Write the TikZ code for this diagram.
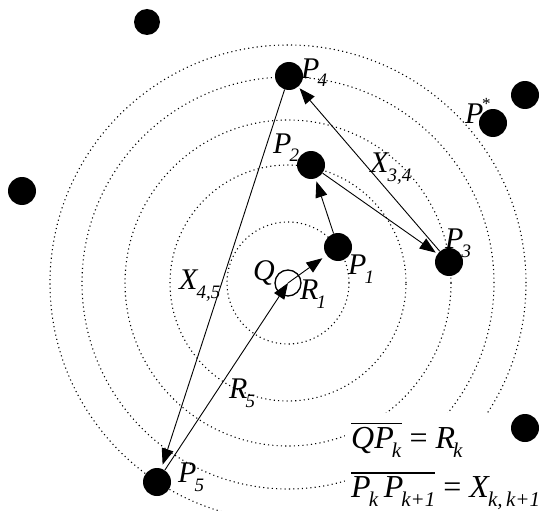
\documentclass[tikz,border=0pt]{standalone}
\usepackage{fontspec}
\setmainfont{Liberation Serif}
\usetikzlibrary{arrows.meta}
\def\subsz{19}
\newcommand{\lbl}[2]{\textit{#1}\kern-0.06em\raisebox{-0.3em}{\fontsize{\subsz}{\subsz}\selectfont\textit{#2}}}
\newcommand{\ovl}[1]{\leavevmode\vbox{\hrule height 1.2pt\kern 2.5pt\hbox{#1}}}
\begin{document}
\begin{tikzpicture}[x=1pt,y=-1pt,
  dot/.style={circle,fill=black,inner sep=0pt,minimum size=28pt},
  smalldot/.style={circle,fill=black,inner sep=0pt,minimum size=26pt},
  ring/.style={draw=black,line width=1.1pt,dash pattern=on 1.1pt off 3.2pt},
  link/.style={draw=black,line width=0.9pt,-{Triangle[length=16pt,width=12pt]},shorten >=2pt},
  lab/.style={font=\fontsize{30}{30}\selectfont\def\subsz{19},inner sep=0pt,anchor=base west},
  formula/.style={font=\fontsize{32}{32}\selectfont\def\subsz{21},inner sep=0pt,anchor=base west}]
\useasboundingbox (0,0) rectangle (541,511);
\fill[white] (0,0) rectangle (541,511);
% centre
\node[draw=black,circle,line width=1.3pt,inner sep=0pt,minimum size=26pt] (Q) at (288,283) {};
% rings
\draw[ring] (Q.center) circle[radius=61pt];
\draw[ring] (Q.center) circle[radius=118pt];
\draw[ring] (Q.center) circle[radius=163pt];
\draw[ring] (Q.center) circle[radius=206pt];
\draw[ring] (Q.center) circle[radius=238pt];
% white box behind formula
\fill[white] (345,413) rectangle (541,511);
% points
\node[dot] (P1) at (338,247) {};
\node[dot] (P2) at (311,165) {};
\node[dot] (P3) at (449,262) {};
\node[dot] (P4) at (289,76) {};
\node[dot] (P5) at (157,482) {};
\node[dot] (Ps) at (493,123) {};
\node[smalldot] (D1) at (147,22) {};
\node[dot] (D2) at (22,191) {};
\node[dot] (D3) at (525,95) {};
\node[dot] (D4) at (525,428) {};
% connectors
\draw[link,shorten >=5pt] (Q.center) -- (P1);
\draw[link,shorten >=3pt] (P1) -- (P2);
\draw[link] (P2) -- (P3);
\draw[link] (P3) -- (P4);
\draw[link,shorten >=4pt] (P4) -- (P5);
\draw[link,shorten >=0pt] (P5) -- (Q.center);
% labels
\node[lab] (lP4) at (301,78) {\lbl{P}{4}};
\node[lab] (lPs) at (465,123) {\textit{P}\kern-0.05em\raisebox{0.45em}{\fontsize{17}{17}\selectfont *}};
\node[lab] (lP2) at (273,153) {\lbl{P}{2}};
\node[lab] (lP1) at (348,274) {\lbl{P}{1}};
\node[lab] (lP3) at (445,248) {\lbl{P}{3}};
\node[lab] (lP5) at (178,482) {\lbl{P}{5}};
\node[lab] (lQ) at (253,280) {\textit{Q}};
\node[lab] (lR1) at (300,299) {\lbl{R}{1}};
\node[lab] (lX34) at (370,172) {\lbl{X}{3,4}};
\node[lab] (lX45) at (179,289) {\lbl{X}{4,5}};
\node[lab] (lR5) at (229,398) {\lbl{R}{5}};
% formula
\node[formula] (f1) at (351,448) {\ovl{\textit{Q}\lbl{P}{k}} = \lbl{R}{k}};
\node[formula] (f2) at (351,497) {\ovl{\lbl{P}{k}\,\lbl{P}{k+1}} = \lbl{X}{k,\,k+1}};
\end{tikzpicture}
\end{document}
